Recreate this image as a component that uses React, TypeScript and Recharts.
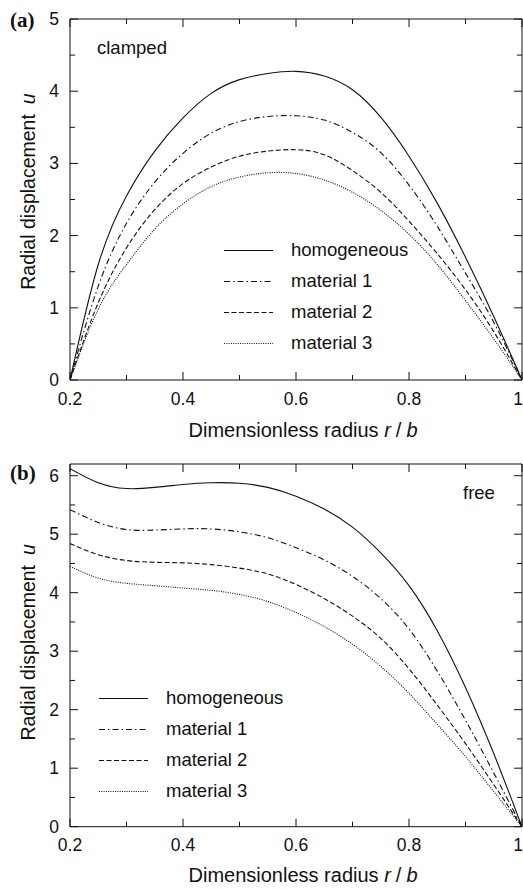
import { LineChart, Line, XAxis, YAxis, Legend } from "recharts";

const radius = [0.2, 0.25, 0.3, 0.35, 0.4, 0.45, 0.5, 0.55, 0.6, 0.65, 0.7, 0.75, 0.8, 0.85, 0.9, 0.95, 1];

// (a) clamped edge
const clampedHomogeneous = [0, 1.6, 2.55, 3.17, 3.63, 3.97, 4.16, 4.245, 4.275, 4.21, 4.02, 3.64, 3.1, 2.45, 1.7, 0.88, 0];
const clampedMaterial1 = [0, 1.3, 2.17, 2.74, 3.14, 3.42, 3.58, 3.65, 3.66, 3.6, 3.43, 3.15, 2.7, 2.13, 1.48, 0.8, 0];
const clampedMaterial2 = [0, 1.07, 1.83, 2.36, 2.72, 2.95, 3.1, 3.17, 3.19, 3.12, 2.9, 2.6, 2.2, 1.75, 1.25, 0.67, 0];
const clampedMaterial3 = [0, 0.98, 1.6, 2.09, 2.44, 2.68, 2.81, 2.87, 2.86, 2.77, 2.6, 2.35, 2.02, 1.6, 1.1, 0.57, 0];

// (b) free edge
const freeHomogeneous = [6.12, 5.88, 5.78, 5.8, 5.85, 5.88, 5.87, 5.8, 5.65, 5.43, 5.12, 4.68, 4.12, 3.35, 2.38, 1.25, 0];
const freeMaterial1 = [5.42, 5.2, 5.08, 5.07, 5.09, 5.09, 5.04, 4.94, 4.77, 4.56, 4.28, 3.9, 3.38, 2.66, 1.82, 0.92, 0];
const freeMaterial2 = [4.84, 4.65, 4.55, 4.52, 4.51, 4.48, 4.42, 4.32, 4.14, 3.9, 3.6, 3.22, 2.7, 2.08, 1.42, 0.72, 0];
const freeMaterial3 = [4.45, 4.25, 4.16, 4.12, 4.08, 4.04, 3.97, 3.85, 3.66, 3.42, 3.12, 2.74, 2.28, 1.75, 1.2, 0.6, 0];

const xMajor = [0.2, 0.4, 0.6, 0.8, 1];
const xAllTicks = [0.2, 0.3, 0.4, 0.5, 0.6, 0.7, 0.8, 0.9, 1];
const yMajorA = [0, 1, 2, 3, 4, 5];
const yAllTicksA = [0, 0.5, 1, 1.5, 2, 2.5, 3, 3.5, 4, 4.5, 5];
const yMajorB = [0, 1, 2, 3, 4, 5, 6];
const yAllTicksB = [0, 0.5, 1, 1.5, 2, 2.5, 3, 3.5, 4, 4.5, 5, 5.5, 6];

const seriesNames = ["homogeneous", "material 1", "material 2", "material 3"];
const seriesDash = ["", "6 3 1.5 3", "5 2.5", "1 1.3"];
const seriesKeys = ["hom", "m1", "m2", "m3"];

const SANS = '"Liberation Sans", Arial, Helvetica, sans-serif';
const SERIF = '"Liberation Serif", "Times New Roman", serif';
const INK = "#111";

function buildRows(cols: number[][]) {
  return radius.map((r, i) => ({
    r,
    hom: cols[0][i],
    m1: cols[1][i],
    m2: cols[2][i],
    m3: cols[3][i],
  }));
}

const fmtX = (v: number) => (v === 1 ? "1" : v.toFixed(1));
const isIn = (list: number[], v: number) => list.some((m) => Math.abs(m - v) < 1e-6);

// inward tick marks (long = major, short = minor) plus labels on bottom/left
function TickMark(props: any) {
  const { x, y, payload, side, majors, labelGap } = props;
  const v = payload.value;
  const major = isIn(majors, v);
  const len = major ? 8 : 5;
  let line = null;
  let label = null;
  if (side === "bottom") {
    line = <line x1={x} x2={x} y1={y} y2={y - len} stroke={INK} />;
    if (major && labelGap) {
      // last label sits at the right edge of the page
      const atEdge = v === 1;
      label = (
        <text x={atEdge ? x + 1 : x} y={y + labelGap} textAnchor={atEdge ? "end" : "middle"} fill={INK} fontFamily={SANS} fontSize={17.5}>
          {fmtX(v)}
        </text>
      );
    }
  } else if (side === "top") {
    line = <line x1={x} x2={x} y1={y} y2={y + len} stroke={INK} />;
  } else if (side === "left") {
    line = <line x1={x} x2={x + len} y1={y} y2={y} stroke={INK} />;
    if (major && labelGap)
      label = (
        <text x={x - labelGap} y={y} textAnchor="end" dominantBaseline="central" fill={INK} fontFamily={SANS} fontSize={17.5}>
          {String(v)}
        </text>
      );
  } else {
    line = <line x1={x} x2={x - len} y1={y} y2={y} stroke={INK} />;
  }
  return (
    <g>
      {line}
      {label}
    </g>
  );
}

function LegendBox() {
  return (
    <div style={{ fontFamily: SANS, fontSize: 18.5, color: INK }}>
      {seriesNames.map((name, i) => (
        <div key={name} style={{ height: 31, display: "flex", alignItems: "center" }}>
          <svg width={50} height={31} style={{ display: "block" }}>
            <line x1={0} x2={49} y1={15.5} y2={15.5} stroke={INK} strokeWidth={1.1} strokeDasharray={seriesDash[i] || undefined} />
          </svg>
          <span style={{ marginLeft: 17, whiteSpace: "nowrap" }}>{name}</span>
        </div>
      ))}
    </div>
  );
}

interface PanelProps {
  rows: any[];
  height: number;
  margin: { top: number; right: number; bottom: number; left: number };
  yMax: number;
  yMajor: number[];
  yAll: number[];
  legendLeft: number;
  legendTop: number;
  titleGap: number;
  xLabelGap: number;
  yTitleShift: number;
}

function Panel({ rows, height, margin, yMax, yMajor, yAll, legendLeft, legendTop, titleGap, xLabelGap, yTitleShift }: PanelProps) {
  const axisStroke = { stroke: INK, strokeWidth: 1 };

  const xTitle = (props: any) => {
    const vb = props.viewBox;
    const cx = vb.x + vb.width / 2 + 7;
    const cy = vb.y + titleGap;
    return (
      <text x={cx} y={cy} textAnchor="middle" fill={INK} fontFamily={SANS} fontSize={20}>
        Dimensionless radius{" "}
        <tspan fontStyle="italic">r</tspan>
        <tspan dx={5}>/</tspan>
        <tspan dx={5} fontStyle="italic">b</tspan>
      </text>
    );
  };

  const yTitle = (props: any) => {
    const vb = props.viewBox;
    const cx = vb.x + vb.width - 42;
    const cy = vb.y + vb.height / 2 + yTitleShift;
    return (
      <text x={cx} y={cy} transform={`rotate(-90 ${cx} ${cy})`} textAnchor="middle" dominantBaseline="central" fill={INK} fontFamily={SANS} fontSize={19.5}>
        Radial displacement
        <tspan dx={10} fontStyle="italic">u</tspan>
      </text>
    );
  };

  return (
    <LineChart width={523} height={height} data={rows} margin={margin}>
      <XAxis dataKey="r" type="number" domain={[0.2, 1]} allowDataOverflow ticks={xAllTicks} interval={0}
        height={1} tickSize={0} tickMargin={0} axisLine={axisStroke} tickLine={false}
        tick={<TickMark side="bottom" majors={xMajor} labelGap={xLabelGap} />} label={xTitle} />
      <XAxis xAxisId="xt" orientation="top" dataKey="r" type="number" domain={[0.2, 1]} allowDataOverflow ticks={xAllTicks} interval={0}
        height={1} tickSize={0} tickMargin={0} axisLine={axisStroke} tickLine={false}
        tick={<TickMark side="top" majors={xMajor} />} />
      <YAxis type="number" domain={[0, yMax]} allowDataOverflow ticks={yAll} interval={0} width={1}
        tickSize={0} tickMargin={0} axisLine={axisStroke} tickLine={false}
        tick={<TickMark side="left" majors={yMajor} labelGap={11} />} label={yTitle} />
      <YAxis yAxisId="yr" orientation="right" type="number" domain={[0, yMax]} allowDataOverflow ticks={yAll} interval={0} width={1}
        tickSize={0} tickMargin={0} axisLine={axisStroke} tickLine={false}
        tick={<TickMark side="right" majors={yMajor} />} />
      <Legend layout="vertical" align="center" verticalAlign="middle" content={() => <LegendBox />}
        wrapperStyle={{ left: legendLeft, top: legendTop, width: "auto", height: "auto" }} />
      {seriesKeys.map((k, i) => (
        <Line key={k} dataKey={k} name={seriesNames[i]} type="natural" stroke={INK} strokeWidth={1.1}
          strokeDasharray={seriesDash[i] || undefined} dot={false} activeDot={false} isAnimationActive={false} />
      ))}
    </LineChart>
  );
}

const tagStyle: React.CSSProperties = {
  position: "absolute", fontFamily: SERIF, fontWeight: "bold", fontSize: 21, lineHeight: "24px", color: INK,
};
const noteStyle: React.CSSProperties = {
  position: "absolute", fontFamily: SANS, fontSize: 18.5, lineHeight: "22px", color: INK,
};

export default function App() {
  const rowsA = buildRows([clampedHomogeneous, clampedMaterial1, clampedMaterial2, clampedMaterial3]);
  const rowsB = buildRows([freeHomogeneous, freeMaterial1, freeMaterial2, freeMaterial3]);

  return (
    <div style={{ position: "absolute", left: 0, top: 0, width: 523, height: 889, background: "#fff", overflow: "hidden" }}>
      <div style={{ position: "absolute", left: 0, top: 0 }}>
        <Panel rows={rowsA} height={452} margin={{ top: 18, right: 0, bottom: 71, left: 69 }}
          yMax={5} yMajor={yMajorA} yAll={yAllTicksA} legendLeft={224} legendTop={234.5} titleGap={57} xLabelGap={25} yTitleShift={-8} />
      </div>
      <div style={{ position: "absolute", left: 0, top: 440 }}>
        <Panel rows={rowsB} height={449} margin={{ top: 23, right: 0, bottom: 61.3, left: 69 }}
          yMax={6.2} yMajor={yMajorB} yAll={yAllTicksB} legendLeft={99} legendTop={242.5} titleGap={55} xLabelGap={24} yTitleShift={-3} />
      </div>
      <div style={{ ...tagStyle, left: 10, top: 8 }}>(a)</div>
      <div style={{ ...noteStyle, left: 97, top: 37 }}>clamped</div>
      <div style={{ ...tagStyle, left: 10, top: 461 }}>(b)</div>
      <div style={{ ...noteStyle, left: 463, top: 482 }}>free</div>
    </div>
  );
}
